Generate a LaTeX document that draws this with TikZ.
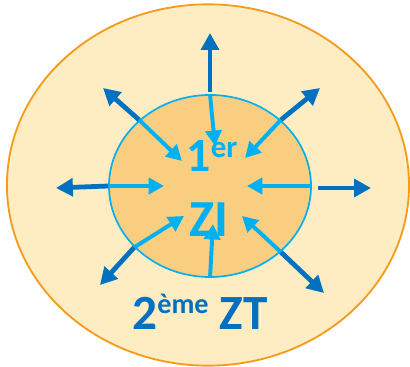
\documentclass[tikz,border=0pt]{standalone}
\usepackage{fontspec}
\setmainfont{Carlito}
\usepackage{xcolor}
\definecolor{ztfill}{RGB}{254,236,194}
\definecolor{ztorange}{RGB}{245,155,30}
\definecolor{zifill}{RGB}{250,206,128}
\definecolor{zilight}{RGB}{0,176,240}
\definecolor{zidark}{RGB}{0,112,192}
\usetikzlibrary{
  arrows.meta,
  positioning,
  shapes.geometric
}

\begin{document}
\begin{tikzpicture}[
  x=0.025cm, y=-0.025cm,
  zone/.style={
    ellipse, draw, inner sep=0pt
  },
  inarr/.style={-{Triangle[length=11pt,width=11.5pt]}, line width=2.8pt, zilight},
  outarr/.style={-{Triangle[length=12pt,width=12.5pt]}, line width=3.4pt, zidark},
  lbl/.style={font=\bfseries, inner sep=0pt, anchor=base}
]
\useasboundingbox (0,0) rectangle (410,367);

\node[zone, fill=ztfill, draw=ztorange, line width=1.3pt,
  minimum width=10.05cm, minimum height=9.03cm] (zt) at (208,185) {};
\node[zone, fill=zifill, draw=zilight, line width=1.2pt,
  minimum width=5.05cm, minimum height=4.55cm] (zi) at (210,186) {};

% tips of the inward arrows
\coordinate (tN)  at (215,146);
\coordinate (tW)  at (164,186);
\coordinate (tE)  at (247,186);
\coordinate (tS)  at (213,224);
\coordinate (tNW) at (182,161);
\coordinate (tNE) at (245,158);
\coordinate (tSW) at (184,216);
\coordinate (tSE) at (242,216);

% tips of the outward arrows
\coordinate (oN)  at (210,33);
\coordinate (oW)  at (56,188);
\coordinate (oE)  at (371,188);
\coordinate (oNW) at (103,88);
\coordinate (oNE) at (320,88);
\coordinate (oSW) at (100,285);
\coordinate (oSE) at (324,293);
\coordinate (sE)  at (318,188);
\coordinate (sN)  at (210,92);

\draw[outarr] (sN)       -- (oN);
\draw[outarr] (zi.west)  -- (oW);
\draw[outarr] (sE)       -- (oE);
\draw[outarr] (zi.137)   -- (oNW);
\draw[outarr] (zi.43)    -- (oNE);
\draw[outarr] (zi.219)   -- (oSW);
\draw[outarr] (zi.317)   -- (oSE);

\draw[inarr] (zi.north) -- (tN);
\draw[inarr] (zi.west)  -- (tW);
\draw[inarr] (zi.east)  -- (tE);
\draw[inarr] (zi.south) -- (tS);
\draw[inarr] (zi.137)   -- (tNW);
\draw[inarr] (zi.43)    -- (tNE);
\draw[inarr] (zi.219)   -- (tSW);
\draw[inarr] (zi.317)   -- (tSE);

\node[lbl, text=zilight, font=\bfseries\fontsize{34}{34}\selectfont] (lblfirst) at (212,172)
  {1\raisebox{10pt}{\fontsize{22}{22}\selectfont er}};
\node[lbl, text=zilight, font=\bfseries\fontsize{37}{37}\selectfont] (lblzi) at (209,237) {ZI};
\node[lbl, text=zidark, font=\bfseries\fontsize{35}{35}\selectfont] (lblzt) at (200,330)
  {2\raisebox{12pt}{\fontsize{20}{20}\selectfont ème} ZT};

\end{tikzpicture}
\end{document}
